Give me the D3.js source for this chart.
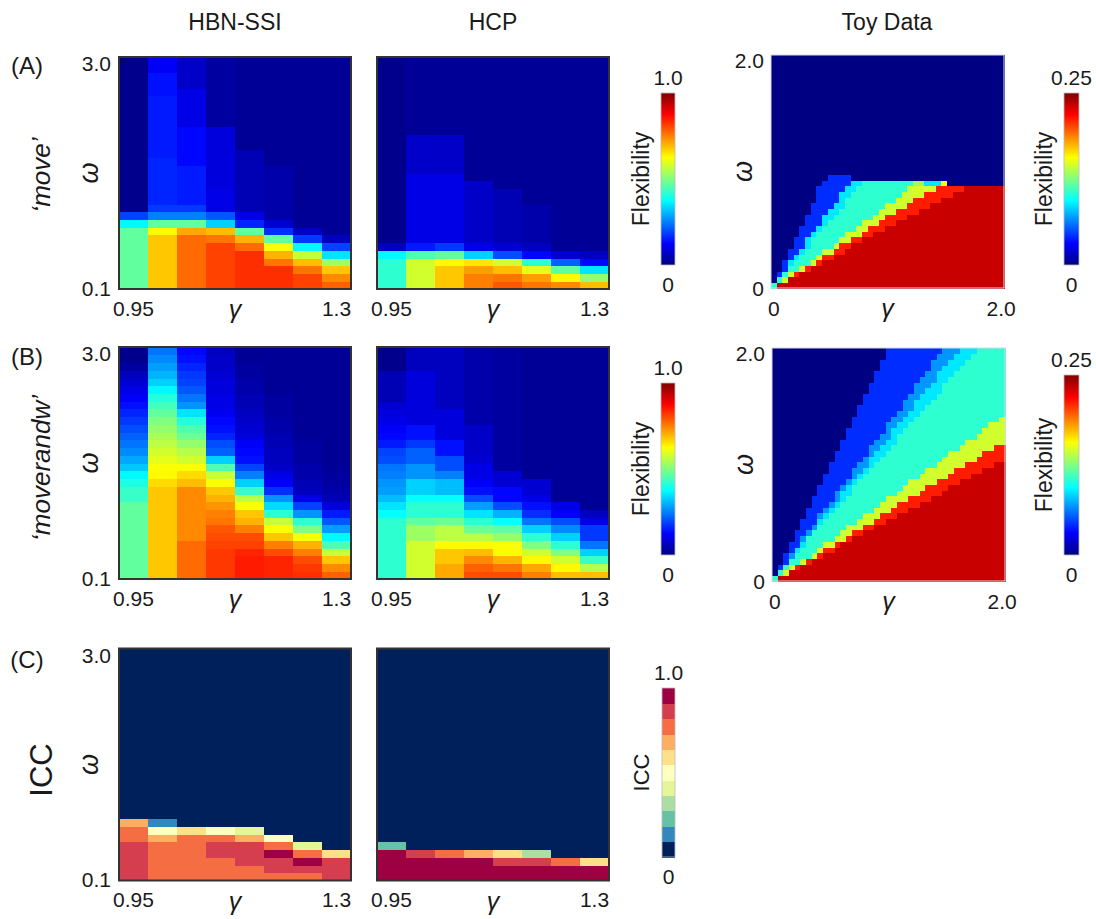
<!DOCTYPE html>
<html><head><meta charset="utf-8">
<script src="https://cdn.jsdelivr.net/npm/d3@7"></script>
<style>
body{margin:0;background:#fff;}
svg text{font-family:"Liberation Sans",Arial,Helvetica,sans-serif;fill:#1a1a1a;}
</style></head><body>
<svg id="c" width="1096" height="919"></svg>
<script>
// ---------------- categories ----------------
const gammas = [0.95,1.0,1.05,1.1,1.15,1.2,1.25,1.3];
const omegas = [0.1,0.2,0.3,0.4,0.5,0.6,0.7,0.8,0.9,1.0,1.1,1.2,1.3,1.4,1.5,1.6,1.7,1.8,1.9,2.0,2.1,2.2,2.3,2.4,2.5,2.6,2.7,2.8,2.9,3.0];
const toyGamma = [0,0.05,0.1,0.15,0.2,0.25,0.3,0.35,0.4,0.45,0.5,0.55,0.6,0.65,0.7,0.75,0.8,0.85,0.9,0.95,1.0,1.05,1.1,1.15,1.2,1.25,1.3,1.35,1.4,1.45,1.5,1.55,1.6,1.65,1.7,1.75,1.8,1.85,1.9,1.95,2.0];
const toyOmega = toyGamma.slice();
const gammaTickLabels = ["0.95","1.3"];
const omegaTickLabels = ["0.1","3.0"];
const toyTickLabels = ["0","2.0"];

// ---------------- flexibility, columns γ=0.95..1.3, values from ω=0.1 upward ----------------
const hbnMove = [
 [0.47,0.47,0.47,0.47,0.47,0.47,0.47,0.47,0.37,0.19,0.01,0.01,0.01,0.01,0.01,0.01,0.01,0.01,0.01,0.01,0.01,0.01,0.01,0.01,0.01,0.01,0.01,0.01,0.01,0.01],
 [0.68,0.68,0.68,0.68,0.68,0.68,0.68,0.63,0.47,0.25,0.18,0.16,0.16,0.16,0.16,0.16,0.16,0.15,0.15,0.15,0.15,0.15,0.15,0.15,0.15,0.14,0.14,0.14,0.12,0.12],
 [0.77,0.77,0.77,0.77,0.77,0.77,0.77,0.71,0.47,0.25,0.18,0.15,0.15,0.15,0.15,0.15,0.13,0.13,0.13,0.13,0.13,0.1,0.1,0.1,0.1,0.1,0.07,0.07,0.07,0.07],
 [0.81,0.81,0.81,0.81,0.81,0.81,0.76,0.69,0.33,0.21,0.1,0.1,0.1,0.09,0.09,0.09,0.09,0.09,0.09,0.09,0.09,0.03,0.03,0.03,0.03,0.03,0.03,0.03,0.03,0.03],
 [0.83,0.83,0.83,0.83,0.83,0.77,0.7,0.47,0.16,0.1,0.05,0.05,0.05,0.05,0.05,0.05,0.05,0.05,0.02,0.02,0.02,0.02,0.02,0.02,0.02,0.02,0.02,0.02,0.02,0.02],
 [0.83,0.83,0.83,0.76,0.7,0.62,0.47,0.17,0.08,0.04,0.04,0.04,0.04,0.04,0.04,0.04,0.02,0.02,0.02,0.02,0.02,0.02,0.02,0.02,0.02,0.02,0.02,0.02,0.02,0.02],
 [0.81,0.81,0.76,0.69,0.57,0.37,0.18,0.07,0.02,0.02,0.02,0.02,0.02,0.02,0.02,0.02,0.02,0.02,0.02,0.02,0.02,0.02,0.02,0.02,0.02,0.02,0.02,0.02,0.02,0.02],
 [0.78,0.74,0.68,0.53,0.35,0.19,0.06,0.02,0.02,0.02,0.02,0.02,0.02,0.02,0.02,0.02,0.02,0.02,0.02,0.02,0.02,0.02,0.02,0.02,0.02,0.02,0.02,0.02,0.02,0.02]
];
const hcpMove = [
 [0.42,0.42,0.42,0.42,0.37,0.06,0.01,0.01,0.01,0.01,0.01,0.01,0.01,0.01,0.01,0.01,0.01,0.01,0.01,0.01,0.01,0.01,0.01,0.01,0.01,0.01,0.01,0.01,0.01,0.01],
 [0.58,0.58,0.58,0.58,0.45,0.15,0.1,0.1,0.1,0.1,0.1,0.1,0.1,0.1,0.1,0.07,0.07,0.07,0.07,0.07,0.02,0.02,0.02,0.02,0.02,0.02,0.02,0.02,0.02,0.02],
 [0.68,0.68,0.68,0.63,0.47,0.18,0.1,0.1,0.1,0.1,0.1,0.1,0.1,0.1,0.1,0.07,0.07,0.07,0.07,0.07,0.02,0.02,0.02,0.02,0.02,0.02,0.02,0.02,0.02,0.02],
 [0.75,0.75,0.72,0.65,0.33,0.1,0.07,0.07,0.07,0.07,0.07,0.07,0.07,0.07,0.02,0.02,0.02,0.02,0.02,0.02,0.02,0.02,0.02,0.02,0.02,0.02,0.02,0.02,0.02,0.02],
 [0.79,0.76,0.69,0.58,0.2,0.08,0.05,0.05,0.05,0.05,0.05,0.05,0.05,0.02,0.02,0.02,0.02,0.02,0.02,0.02,0.02,0.02,0.02,0.02,0.02,0.02,0.02,0.02,0.02,0.02],
 [0.76,0.72,0.6,0.42,0.13,0.06,0.04,0.04,0.04,0.04,0.04,0.02,0.02,0.02,0.02,0.02,0.02,0.02,0.02,0.02,0.02,0.02,0.02,0.02,0.02,0.02,0.02,0.02,0.02,0.02],
 [0.74,0.63,0.47,0.22,0.08,0.02,0.02,0.02,0.02,0.02,0.02,0.02,0.02,0.02,0.02,0.02,0.02,0.02,0.02,0.02,0.02,0.02,0.02,0.02,0.02,0.02,0.02,0.02,0.02,0.02],
 [0.69,0.52,0.35,0.13,0.06,0.02,0.02,0.02,0.02,0.02,0.02,0.02,0.02,0.02,0.02,0.02,0.02,0.02,0.02,0.02,0.02,0.02,0.02,0.02,0.02,0.02,0.02,0.02,0.02,0.02]
];
const hbnMoverandw = [
 [0.47,0.47,0.47,0.47,0.47,0.47,0.47,0.47,0.47,0.47,0.43,0.43,0.4,0.37,0.32,0.29,0.26,0.24,0.22,0.2,0.18,0.16,0.14,0.12,0.1,0.08,0.06,0.03,0.01,0.01],
 [0.68,0.68,0.68,0.68,0.68,0.68,0.68,0.68,0.68,0.68,0.68,0.68,0.66,0.63,0.62,0.6,0.58,0.56,0.54,0.52,0.5,0.47,0.44,0.41,0.37,0.33,0.3,0.28,0.26,0.24],
 [0.77,0.77,0.77,0.77,0.77,0.74,0.74,0.74,0.74,0.74,0.74,0.74,0.69,0.66,0.62,0.58,0.55,0.52,0.48,0.45,0.41,0.35,0.27,0.24,0.21,0.19,0.18,0.16,0.14,0.13],
 [0.82,0.82,0.82,0.82,0.81,0.8,0.79,0.76,0.75,0.73,0.7,0.68,0.62,0.57,0.45,0.33,0.22,0.2,0.16,0.14,0.13,0.11,0.1,0.1,0.09,0.09,0.08,0.07,0.07,0.06],
 [0.85,0.85,0.85,0.84,0.81,0.8,0.75,0.7,0.68,0.62,0.56,0.43,0.33,0.25,0.19,0.14,0.13,0.12,0.09,0.08,0.07,0.06,0.05,0.05,0.04,0.04,0.03,0.03,0.02,0.02],
 [0.84,0.84,0.84,0.8,0.75,0.68,0.62,0.57,0.42,0.34,0.27,0.17,0.12,0.1,0.07,0.06,0.06,0.05,0.05,0.04,0.04,0.03,0.03,0.03,0.02,0.02,0.02,0.02,0.02,0.02],
 [0.83,0.82,0.8,0.75,0.7,0.62,0.5,0.42,0.27,0.19,0.1,0.06,0.05,0.04,0.04,0.03,0.03,0.03,0.02,0.02,0.02,0.02,0.02,0.02,0.02,0.02,0.02,0.02,0.02,0.02],
 [0.78,0.74,0.68,0.57,0.45,0.37,0.28,0.21,0.15,0.09,0.05,0.04,0.03,0.03,0.02,0.02,0.02,0.02,0.02,0.02,0.02,0.02,0.02,0.02,0.02,0.02,0.02,0.02,0.02,0.02]
];
const hcpMoverandw = [
 [0.42,0.42,0.42,0.42,0.42,0.42,0.42,0.42,0.38,0.35,0.31,0.28,0.27,0.25,0.24,0.2,0.19,0.15,0.13,0.12,0.1,0.09,0.08,0.05,0.05,0.05,0.05,0.01,0.01,0.01],
 [0.58,0.58,0.58,0.58,0.58,0.53,0.53,0.47,0.42,0.42,0.38,0.33,0.33,0.27,0.27,0.22,0.22,0.18,0.14,0.14,0.09,0.09,0.09,0.09,0.09,0.09,0.09,0.06,0.06,0.06],
 [0.71,0.71,0.68,0.68,0.63,0.56,0.56,0.48,0.42,0.42,0.38,0.31,0.31,0.25,0.2,0.2,0.14,0.14,0.09,0.09,0.09,0.09,0.06,0.06,0.06,0.06,0.06,0.06,0.06,0.06],
 [0.8,0.78,0.74,0.69,0.63,0.56,0.48,0.42,0.35,0.28,0.2,0.14,0.12,0.1,0.1,0.08,0.07,0.07,0.07,0.07,0.04,0.04,0.04,0.04,0.04,0.04,0.04,0.04,0.04,0.04],
 [0.8,0.76,0.7,0.63,0.62,0.52,0.47,0.38,0.3,0.2,0.13,0.13,0.08,0.08,0.03,0.03,0.03,0.03,0.03,0.03,0.03,0.03,0.03,0.03,0.03,0.03,0.03,0.03,0.03,0.03],
 [0.75,0.71,0.63,0.58,0.5,0.42,0.33,0.24,0.17,0.14,0.1,0.08,0.08,0.02,0.02,0.02,0.02,0.02,0.02,0.02,0.02,0.02,0.02,0.02,0.02,0.02,0.02,0.02,0.02,0.02],
 [0.69,0.63,0.58,0.5,0.42,0.33,0.26,0.2,0.12,0.1,0.02,0.02,0.02,0.02,0.02,0.02,0.02,0.02,0.02,0.02,0.02,0.02,0.02,0.02,0.02,0.02,0.02,0.02,0.02,0.02],
 [0.69,0.55,0.43,0.33,0.24,0.18,0.18,0.1,0.06,0.02,0.02,0.02,0.02,0.02,0.02,0.02,0.02,0.02,0.02,0.02,0.02,0.02,0.02,0.02,0.02,0.02,0.02,0.02,0.02,0.02]
];
// ICC, columns γ=0.95..1.3, values from ω=0.1 upward (rows not listed: 0)
const iccHbn = [
 [0.86,0.86,0.86,0.86,0.86,0.77,0.77,0.68],
 [0.77,0.77,0.77,0.77,0.77,0.68,0.5,0.14],
 [0.77,0.77,0.77,0.77,0.77,0.77,0.59],
 [0.77,0.77,0.77,0.86,0.86,0.77,0.5],
 [0.77,0.77,0.86,0.86,0.86,0.68,0.41],
 [0.77,0.86,0.86,0.95,0.77,0.5],
 [0.77,0.86,0.95,0.77,0.41],
 [0.86,0.86,0.86,0.59]
];
const iccHcp = [
 [0.95,0.95,0.95,0.95,0.23],
 [0.95,0.95,0.95,0.86],
 [0.95,0.95,0.95,0.77],
 [0.95,0.95,0.95,0.68],
 [0.95,0.95,0.86,0.59],
 [0.95,0.95,0.86,0.32],
 [0.95,0.95,0.77],
 [0.95,0.95,0.59]
];

// ---------------- Toy data: band levels and per-row band edges (column index where each band starts) ----------------
const toyLevels = [0, 0.042, 0.068, 0.105, 0.145, 0.212, 0.232, 0.088, 0.13, 0.156]; // flexibility per band code
const toyBandOrder = [0, 1, 2, 7, 3, 4, 5, 6];
const toyMoveEdges = [
 [0,0,0,0,1,1,1],[1,1,1,1,2,3,3],[1,2,2,2,3,4,5],[2,3,3,3,5,6,7],[2,3,3,4,7,8,9],
 [3,4,4,5,8,9,11],[3,5,5,6,9,11,13],[4,6,6,7,11,12,14],[4,6,6,7,12,14,16],[5,7,7,8,13,16,18],
 [5,8,8,9,15,17,20],[6,9,9,10,16,19,22],[6,9,9,11,18,20,24],[7,10,10,12,19,22,26],[7,11,11,13,20,24,28],
 [8,12,12,13,22,25,30],[8,12,12,14,23,27,32],[8,13,13,15,24,29,34]
];
const toyMoveCapRuns = { // [code, endColumn, ...] for the rows above the red plateau
 18: [0,9, 1,14, 7,16, 3,25, 8,27, 7,30, 9,31, 0,41],
 19: [0,10, 1,14, 0,41]
};
const toyMoverandwEdges = [
 [0,0,0,0,1,1,1],[1,1,1,1,2,3,3],[1,2,2,2,3,4,5],[2,3,3,3,5,6,7],[2,3,4,4,7,8,9],
 [3,4,4,5,8,9,11],[3,5,5,6,9,11,12],[4,5,6,6,11,13,14],[4,6,7,7,12,14,16],[5,7,8,8,13,16,18],
 [5,8,8,9,15,18,20],[6,8,9,10,16,19,22],[6,9,10,11,18,21,24],[7,10,11,12,19,22,26],[7,11,12,13,20,24,28],
 [8,11,12,14,22,26,30],[8,12,13,14,23,27,31],[9,13,14,15,24,29,33],[9,14,15,16,26,31,35],[10,14,16,17,27,32,37],
 [10,15,17,18,29,34,39],[11,16,17,19,30,36,41],[11,17,18,20,31,37,41],[12,17,19,21,33,39,41],[12,18,20,22,34,41,41],
 [13,19,21,22,36,41,41],[13,20,21,23,37,41,41],[14,20,22,24,38,41,41],[14,21,23,25,40,41,41],[15,22,24,26,41,41,41],
 [15,23,25,27,41,41,41],[16,23,25,28,41,41,41],[16,24,26,29,41,41,41],[17,25,27,30,41,41,41],[17,25,28,30,41,41,41],
 [18,26,29,31,41,41,41],[18,27,29,32,41,41,41],[19,28,30,33,41,41,41],[19,28,31,34,41,41,41],[20,29,32,35,41,41,41],
 [20,30,33,36,41,41,41]
];

// ---------------- colour scales ----------------
const jetStops = [0, 0.125, 0.375, 0.625, 0.875, 1];
const jetColors = ["#000083", "#0000ff", "#00ffff", "#ffff00", "#ff0000", "#800000"];
const flexColor = d3.scaleLinear().domain(jetStops).range(jetColors).clamp(true);
const toyColor = d3.scaleLinear().domain(jetStops.map(d => d * 0.25)).range(jetColors).clamp(true);
const iccColors = ["#00205b","#3288bd","#66c2a5","#abdda4","#e6f598","#ffffbf","#fee08b","#fdae61","#f46d43","#d53e4f","#9e0142"];
const iccColor = d3.scaleQuantize().domain([0, 1]).range(iccColors);

const svg = d3.select("#c");
const FONT = '"Liberation Sans",Arial,Helvetica,sans-serif';
const TICK = 21;

function toyGrid(edges, capRuns) {
  const n = toyGamma.length, grid = [];
  for (let r = 0; r < toyOmega.length; r++) {
    const row = new Array(n).fill(0);
    if (r < edges.length) {
      const e = [0, ...edges[r], n];
      for (let b = 0; b < toyBandOrder.length; b++)
        for (let c = e[b]; c < e[b + 1]; c++) row[c] = toyBandOrder[b];
    } else if (capRuns && capRuns[r]) {
      const runs = capRuns[r]; let s = 0;
      for (let k = 0; k < runs.length; k += 2) { for (let c = s; c < runs[k + 1]; c++) row[c] = runs[k]; s = runs[k + 1]; }
    }
    grid.push(row);
  }
  return grid;
}

function heatmap(o) {
  const x = d3.scaleBand().domain(o.xs).range([o.x0, o.x0 + o.w]);
  const y = d3.scaleBand().domain(o.ys).range([o.y0 + o.h, o.y0]);
  const cells = [];
  o.xs.forEach((gx, i) => o.ys.forEach((wy, j) => cells.push({gx, wy, v: o.value(i, j)})));
  const g = svg.append("g").attr("shape-rendering", "crispEdges");
  g.selectAll("rect").data(cells).join("rect")
    .attr("x", d => x(d.gx)).attr("y", d => y(d.wy))
    .attr("width", x.bandwidth() + 0.6).attr("height", y.bandwidth() + 0.6)
    .attr("fill", d => o.color(d.v));
  svg.append("rect").attr("x", o.x0).attr("y", o.y0).attr("width", o.w).attr("height", o.h)
    .attr("fill", "none").attr("stroke", o.border).attr("stroke-width", o.bw);
  // x axis (end labels only)
  const ax = svg.append("g").attr("transform", `translate(0,${o.y0 + o.h})`)
    .call(d3.axisBottom(x).tickValues([o.xs[0], o.xs[o.xs.length - 1]])
      .tickFormat((d, i) => o.xLabels[i]).tickSize(0).tickPadding(o.xPad));
  ax.select(".domain").remove();
  ax.selectAll("text").attr("font-size", TICK).style("font-family", FONT);
  svg.append("text").attr("x", o.x0 + o.w / 2).attr("y", o.y0 + o.h + 29)
    .attr("text-anchor", "middle").attr("font-size", 25).attr("font-style", "italic").text("γ");
  if (o.yLabels) {
    const ay = svg.append("g").attr("transform", `translate(${o.x0},0)`)
      .call(d3.axisLeft(y).tickValues([o.ys[0], o.ys[o.ys.length - 1]])
        .tickFormat((d, i) => o.yLabels[i]).tickSize(0).tickPadding(o.yPad));
    ay.select(".domain").remove();
    ay.selectAll("text").attr("font-size", TICK).attr("dy", "0.5em").style("font-family", FONT);
    svg.append("text").attr("transform", `translate(${o.x0 - o.omegaOff},${o.y0 + o.h / 2}) rotate(-90)`)
      .attr("text-anchor", "middle").attr("font-size", 27).attr("font-style", "italic").text("ω");
  }
}

function colorbar(o) {
  const id = "g" + Math.round(o.x) + "_" + Math.round(o.y);
  if (o.type === "jet") {
    const grad = svg.append("defs").append("linearGradient").attr("id", id)
      .attr("x1", 0).attr("y1", 1).attr("x2", 0).attr("y2", 0);
    grad.selectAll("stop").data(jetStops).join("stop")
      .attr("offset", d => d).attr("stop-color", d => flexColor(d));
    svg.append("rect").attr("x", o.x).attr("y", o.y).attr("width", o.w).attr("height", o.h)
      .attr("fill", `url(#${id})`).attr("stroke", "#bbb").attr("stroke-width", 0.8);
  } else {
    const s = d3.scaleBand().domain(d3.range(iccColors.length)).range([o.y + o.h, o.y]);
    svg.append("g").attr("shape-rendering", "crispEdges").selectAll("rect").data(iccColors).join("rect")
      .attr("x", o.x).attr("y", (d, i) => s(i)).attr("width", o.w).attr("height", s.bandwidth() + 0.5)
      .attr("fill", d => d);
    svg.append("rect").attr("x", o.x).attr("y", o.y).attr("width", o.w).attr("height", o.h)
      .attr("fill", "none").attr("stroke", "#bbb").attr("stroke-width", 0.8);
  }
  svg.append("text").attr("x", o.x + o.w / 2).attr("y", o.y - 8).attr("text-anchor", "middle")
    .attr("font-size", TICK).text(o.top);
  svg.append("text").attr("x", o.x + o.w / 2).attr("y", o.y + o.h + 27).attr("text-anchor", "middle")
    .attr("font-size", TICK).text("0");
  svg.append("text").attr("transform", `translate(${o.tx},${o.y + o.h / 2}) rotate(-90)`)
    .attr("text-anchor", "middle").attr("font-size", o.tsize).text(o.title);
}

// ---------------- layout ----------------
const P = 232;
const rowsY = [57, 347, 648.5];
const xHbn = 119, xHcp = 377, xToy = 771;

const flexPanel = (cols) => (i, j) => cols[i][j];
const iccPanel = (cols) => (i, j) => (j < cols[i].length ? cols[i][j] : 0);
const common = {xs: gammas, ys: omegas, w: P, h: P, xLabels: gammaTickLabels, xPad: 12, border: "#333", bw: 2};

heatmap({...common, x0: xHbn, y0: rowsY[0], value: flexPanel(hbnMove), color: flexColor, yLabels: omegaTickLabels, yPad: 8, omegaOff: 21});
heatmap({...common, x0: xHcp, y0: rowsY[0], value: flexPanel(hcpMove), color: flexColor});
heatmap({...common, x0: xHbn, y0: rowsY[1], value: flexPanel(hbnMoverandw), color: flexColor, yLabels: omegaTickLabels, yPad: 8, omegaOff: 21});
heatmap({...common, x0: xHcp, y0: rowsY[1], value: flexPanel(hcpMoverandw), color: flexColor});
heatmap({...common, x0: xHbn, y0: rowsY[2], value: iccPanel(iccHbn), color: iccColor, yLabels: omegaTickLabels, yPad: 8, omegaOff: 21});
heatmap({...common, x0: xHcp, y0: rowsY[2], value: iccPanel(iccHcp), color: iccColor});

const gridMove = toyGrid(toyMoveEdges, toyMoveCapRuns);
const gridMoverandw = toyGrid(toyMoverandwEdges, null);
const toyCommon = {xs: toyGamma, ys: toyOmega, w: 233, h: 233, xLabels: toyTickLabels, xPad: 13, border: "#d5d8e4", bw: 1, color: toyColor, yLabels: toyTickLabels, yPad: 7, omegaOff: 19};
heatmap({...toyCommon, x0: xToy, y0: 55, value: (i, j) => toyLevels[gridMove[j][i]]});
heatmap({...toyCommon, x0: xToy + 1, y0: 348, value: (i, j) => toyLevels[gridMoverandw[j][i]]});

// colour bars
colorbar({type: "jet", x: 661, y: 93, w: 14, h: 172, top: "1.0", title: "Flexibility", tx: 649, tsize: 23});
colorbar({type: "jet", x: 661, y: 383, w: 14, h: 172, top: "1.0", title: "Flexibility", tx: 649, tsize: 23});
colorbar({type: "jet", x: 1064, y: 93, w: 15, h: 172, top: "0.25", title: "Flexibility", tx: 1052, tsize: 23});
colorbar({type: "jet", x: 1064, y: 375, w: 15, h: 180, top: "0.25", title: "Flexibility", tx: 1052, tsize: 23});
colorbar({type: "icc", x: 662, y: 688, w: 13, h: 169, top: "1.0", title: "ICC", tx: 649, tsize: 22});

// titles
[["HBN-SSI", xHbn + P / 2], ["HCP", xHcp + P / 2], ["Toy Data", xToy + 116]].forEach(([t, x]) =>
  svg.append("text").attr("x", x).attr("y", 30).attr("text-anchor", "middle").attr("font-size", 23).text(t));

// row labels
[["(A)", 74], ["(B)", 365], ["(C)", 668]].forEach(([t, y]) =>
  svg.append("text").attr("x", 27).attr("y", y).attr("text-anchor", "middle").attr("font-size", 24).text(t));
svg.append("text").attr("transform", "translate(50,175) rotate(-90)").attr("text-anchor", "middle")
  .attr("font-size", 26).attr("font-style", "italic").text("‘move’");
svg.append("text").attr("transform", "translate(50,468) rotate(-90)").attr("text-anchor", "middle")
  .attr("font-size", 26).attr("font-style", "italic").text("‘moverandw’");
svg.append("text").attr("transform", "translate(52,770) rotate(-90)").attr("text-anchor", "middle")
  .attr("font-size", 31).text("ICC");
</script></body></html>
